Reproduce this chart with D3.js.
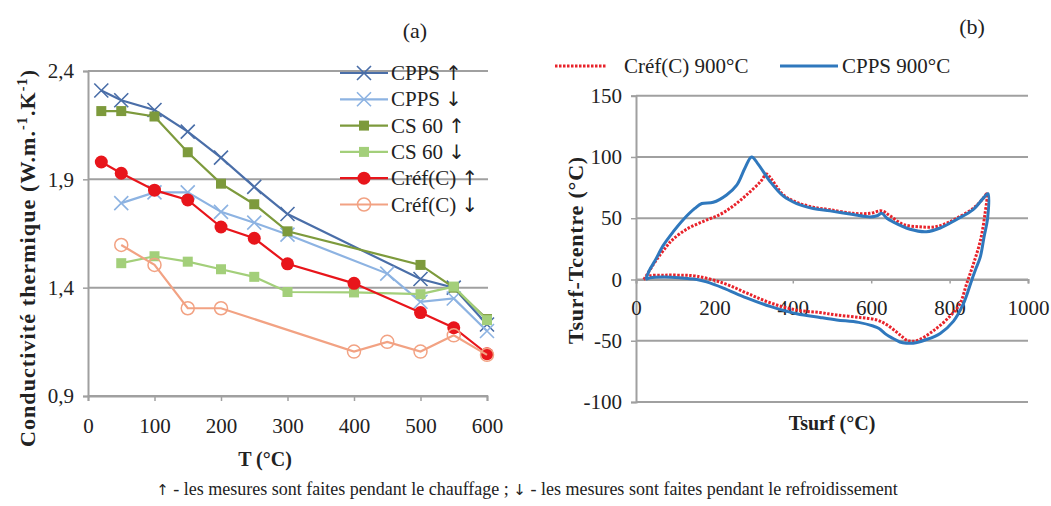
<!DOCTYPE html>
<html>
<head>
<meta charset="utf-8">
<script src="https://cdn.jsdelivr.net/npm/d3@7"></script>
<style>
  body { margin: 0; background: #fff; }
  svg { display: block; }
  text { font-family: "Liberation Serif", "Times New Roman", serif; fill: #222; }
  .arrow { font-family: "DejaVu Sans", sans-serif; }
</style>
</head>
<body>
<svg id="chart" width="1051" height="506"></svg>
<script>
// (a) conductivité thermique en fonction de T
const cppsUpT = [20, 50, 100, 150, 200, 250, 300, 500, 550, 600];
const cppsUpK = [2.31, 2.265, 2.22, 2.12, 2.0, 1.865, 1.74, 1.44, 1.4, 1.23];
const cppsDownT = [50, 100, 150, 200, 250, 300, 450, 500, 550, 600];
const cppsDownK = [1.79, 1.84, 1.84, 1.75, 1.7, 1.645, 1.465, 1.335, 1.35, 1.2];
const cs60UpT = [20, 50, 100, 150, 200, 250, 300, 500, 550, 600];
const cs60UpK = [2.215, 2.215, 2.19, 2.025, 1.88, 1.785, 1.66, 1.505, 1.4, 1.255];
const cs60DownT = [50, 100, 150, 200, 250, 300, 400, 500, 550, 600];
const cs60DownK = [1.513, 1.545, 1.52, 1.485, 1.45, 1.38, 1.378, 1.37, 1.405, 1.25];
const crefUpT = [20, 50, 100, 150, 200, 250, 300, 400, 500, 550, 600];
const crefUpK = [1.98, 1.928, 1.85, 1.805, 1.68, 1.628, 1.51, 1.42, 1.285, 1.215, 1.095];
const crefDownT = [50, 100, 150, 200, 400, 450, 500, 550, 600];
const crefDownK = [1.597, 1.505, 1.305, 1.305, 1.105, 1.15, 1.105, 1.18, 1.09];

const kTicks = [0.9, 1.4, 1.9, 2.4];
const tTicks = [0, 100, 200, 300, 400, 500, 600];

// (b) Tsurf - Tcentre en fonction de Tsurf
const crefTsurf = [20, 30, 50, 78, 95, 129, 172, 214, 248, 282, 318, 333, 345, 376, 410, 452, 495, 554, 597, 627, 648, 681, 724, 763, 793, 818, 860, 885, 895,
  890, 878, 860, 843, 826, 801, 758, 716, 694, 680, 665, 640, 614, 571, 512, 469, 410, 342, 282, 223, 155, 110, 70, 36, 20];
const crefDelta = [0, 5, 15, 27, 33, 41, 47.5, 53, 60, 69, 80, 86, 82, 69, 63, 59, 57, 54, 54, 56, 52, 45, 43, 43, 46, 50, 58, 66, 70,
  53, 31, 12, -4, -20, -30, -42, -50, -50, -47, -43, -37, -33, -31, -29, -27, -25, -19, -11, -3, 2.7, 3.5, 3.5, 3, 0];
const cppsTsurf = [25, 35, 48, 70, 95, 121, 150, 168, 197, 231, 257, 278, 295, 312, 342, 376, 410, 452, 495, 554, 597, 615, 627, 640, 656, 699, 741, 776, 818, 860, 885, 898,
  897, 888, 878, 866, 856, 835, 810, 776, 741, 707, 690, 673, 655, 639, 620, 605, 568, 512, 469, 410, 342, 282, 223, 180, 155, 110, 70, 36, 25];
const cppsDelta = [0, 8, 15, 28, 39, 49, 58, 62, 63, 69, 77, 91, 100, 94, 80, 68, 62, 58, 56, 53, 51, 52, 54, 50, 47, 41, 39, 42, 49, 57, 66, 70,
  50, 35, 18, 8, -1, -20, -34, -44, -49, -52, -52, -51, -48, -45, -40, -38, -35, -33, -31, -28, -22, -15, -7, -2, 0, 1.5, 2, 1.3, 0];

const deltaTicks = [-100, -50, 0, 50, 100, 150];
const tsurfTicks = [0, 200, 400, 600, 800, 1000];

const svg = d3.select("#chart");
const grid = "#a0a0a0";
const serif = "'Liberation Serif', 'Times New Roman', serif";

function styleAxis(a) {
  a.attr("font-family", null);
  a.select(".domain").attr("stroke", grid).attr("stroke-width", 2);
  a.selectAll(".tick line").attr("stroke", grid).attr("stroke-width", 1.5);
  a.selectAll(".tick text").style("font-family", serif).style("font-size", "21px").attr("fill", "#222");
}

// ---------- (a) ----------
const xA = d3.scaleLinear().domain([0, 600]).range([88, 487]);
const yA = d3.scaleLinear().domain([0.9, 2.4]).range([396, 71]);

const gA = svg.append("g");

gA.append("g")
  .selectAll("line")
  .data(kTicks)
  .join("line")
  .attr("x1", xA(0)).attr("x2", xA(600) + 1)
  .attr("y1", d => yA(d)).attr("y2", d => yA(d))
  .attr("stroke", grid).attr("stroke-width", 2);

const axYA = gA.append("g")
  .attr("transform", `translate(${xA(0)},0)`)
  .call(d3.axisLeft(yA).tickValues(kTicks).tickSize(5).tickPadding(9)
    .tickFormat(d => d.toFixed(1).replace(".", ",")));
const axXA = gA.append("g")
  .attr("transform", `translate(0,${yA(0.9)})`)
  .call(d3.axisBottom(xA).tickValues(tTicks).tickSize(5).tickPadding(17)
    .tickFormat(d => String(d)));
styleAxis(axYA);
styleAxis(axXA);

const seriesA = [
  { name: "CPPS", arrow: "↑", T: cppsUpT, K: cppsUpK, color: "#4a6ea8", mark: "x" },
  { name: "CPPS", arrow: "↓", T: cppsDownT, K: cppsDownK, color: "#8db3e2", mark: "x" },
  { name: "CS 60", arrow: "↑", T: cs60UpT, K: cs60UpK, color: "#7d9a3c", mark: "square" },
  { name: "CS 60", arrow: "↓", T: cs60DownT, K: cs60DownK, color: "#a3cf7a", mark: "square" },
  { name: "Créf(C)", arrow: "↑", T: crefUpT, K: crefUpK, color: "#e8151b", mark: "circle" },
  { name: "Créf(C)", arrow: "↓", T: crefDownT, K: crefDownK, color: "#f2a283", mark: "ocircle" }
];

function marker(g, type, color, x, y) {
  if (type === "x") {
    g.append("path")
      .attr("d", `M${x - 7},${y - 7}L${x + 7},${y + 7}M${x - 7},${y + 7}L${x + 7},${y - 7}`)
      .attr("stroke", color).attr("stroke-width", 1.6).attr("fill", "none");
  } else if (type === "square") {
    g.append("rect").attr("x", x - 5).attr("y", y - 5).attr("width", 10).attr("height", 10)
      .attr("fill", color);
  } else if (type === "circle") {
    g.append("circle").attr("cx", x).attr("cy", y).attr("r", 6.5).attr("fill", color);
  } else {
    g.append("circle").attr("cx", x).attr("cy", y).attr("r", 6.5)
      .attr("fill", "none")
      .attr("stroke", color).attr("stroke-width", 1.5);
  }
}

const lineA = d3.line().x(d => xA(d[0])).y(d => yA(d[1]));
seriesA.forEach(s => {
  const pts = s.T.map((t, i) => [t, s.K[i]]);
  const g = gA.append("g");
  g.append("path").attr("d", lineA(pts))
    .attr("fill", "none").attr("stroke", s.color).attr("stroke-width", 2.2);
  pts.forEach(p => marker(g, s.mark, s.color, xA(p[0]), yA(p[1])));
});

// légende (a)
const legA = gA.append("g");
seriesA.forEach((s, i) => {
  const y = 73 + i * 26.3;
  legA.append("line").attr("x1", 340).attr("x2", 388).attr("y1", y).attr("y2", y)
    .attr("stroke", s.color).attr("stroke-width", 2.2);
  marker(legA, s.mark, s.color, 364, y);
  const t = legA.append("text").attr("x", 391).attr("y", y + 7).style("font-size", "21px");
  t.append("tspan").text(s.name + " ");
  t.append("tspan").attr("class", "arrow").style("font-size", "20px").text(s.arrow);
});

gA.append("text").attr("x", 415).attr("y", 38).attr("text-anchor", "middle")
  .style("font-size", "22px").text("(a)");

gA.append("text").attr("x", 265).attr("y", 466).attr("text-anchor", "middle")
  .style("font-size", "20px").style("font-weight", "bold").text("T (°C)");

const ttlA = gA.append("text")
  .attr("transform", "translate(35,258) rotate(-90)")
  .attr("text-anchor", "middle")
  .style("font-size", "22px").style("font-weight", "bold").style("letter-spacing", "1.1px");
ttlA.append("tspan").text("Conductivité thermique  (W.m.");
ttlA.append("tspan").attr("dy", -8).style("font-size", "14px").text("-1");
ttlA.append("tspan").attr("dy", 8).text(".K");
ttlA.append("tspan").attr("dy", -8).style("font-size", "14px").text("-1");
ttlA.append("tspan").attr("dy", 8).text(")");

// ---------- (b) ----------
const xB = d3.scaleLinear().domain([0, 1000]).range([636, 1028]);
const yB = d3.scaleLinear().domain([-100, 150]).range([402, 95.7]);

const gB = svg.append("g");

gB.append("g")
  .selectAll("line")
  .data(deltaTicks)
  .join("line")
  .attr("x1", xB(0)).attr("x2", xB(1000))
  .attr("y1", d => yB(d)).attr("y2", d => yB(d))
  .attr("stroke", grid).attr("stroke-width", 2);

const axYB = gB.append("g")
  .attr("transform", `translate(${xB(0)},0)`)
  .call(d3.axisLeft(yB).tickValues(deltaTicks).tickSize(5).tickPadding(9)
    .tickFormat(d => String(d)));
const axXB = gB.append("g")
  .attr("transform", `translate(0,${yB(0)})`)
  .call(d3.axisBottom(xB).tickValues(tsurfTicks).tickSize(4).tickPadding(17)
    .tickFormat(d => String(d)));
styleAxis(axYB);
styleAxis(axXB);

const lineB = d3.line().x(d => xB(d[0])).y(d => yB(d[1])).curve(d3.curveCatmullRom);
const seriesB = [
  { name: "Créf(C) 900°C", X: crefTsurf, Y: crefDelta, color: "#e8232b", dash: "2.5,1.5" },
  { name: "CPPS 900°C", X: cppsTsurf, Y: cppsDelta, color: "#2f78bd", dash: null }
];
seriesB.forEach(s => {
  const pts = s.X.map((x, i) => [x, s.Y[i]]);
  gB.append("path").attr("d", lineB(pts))
    .attr("fill", "none").attr("stroke", s.color).attr("stroke-width", 3)
    .attr("stroke-dasharray", s.dash);
});

// légende (b)
const legB = [
  { x1: 555, x2: 607, tx: 624 },
  { x1: 780, x2: 838, tx: 842 }
];
seriesB.forEach((s, i) => {
  const p = legB[i];
  gB.append("line").attr("x1", p.x1).attr("x2", p.x2).attr("y1", 66).attr("y2", 66)
    .attr("stroke", s.color).attr("stroke-width", 3).attr("stroke-dasharray", s.dash);
  gB.append("text").attr("x", p.tx).attr("y", 73).style("font-size", "21px").text(s.name);
});

gB.append("text").attr("x", 972).attr("y", 34).attr("text-anchor", "middle")
  .style("font-size", "22px").text("(b)");

gB.append("text").attr("x", 832).attr("y", 430).attr("text-anchor", "middle")
  .style("font-size", "20px").style("font-weight", "bold").text("Tsurf (°C)");

gB.append("text")
  .attr("transform", "translate(583,250) rotate(-90)")
  .attr("text-anchor", "middle")
  .style("font-size", "22px").style("font-weight", "bold").style("letter-spacing", "0.8px")
  .text("Tsurf-Tcentre (°C)");

// note
const note = svg.append("text").attr("x", 527).attr("y", 495).attr("text-anchor", "middle")
  .style("font-size", "18px");
note.append("tspan").attr("class", "arrow").style("font-size", "15px").text("↑");
note.append("tspan").text(" - les mesures sont faites pendant le chauffage ; ");
note.append("tspan").attr("class", "arrow").style("font-size", "15px").text("↓");
note.append("tspan").text(" - les mesures sont faites pendant le refroidissement");
</script>
</body>
</html>
